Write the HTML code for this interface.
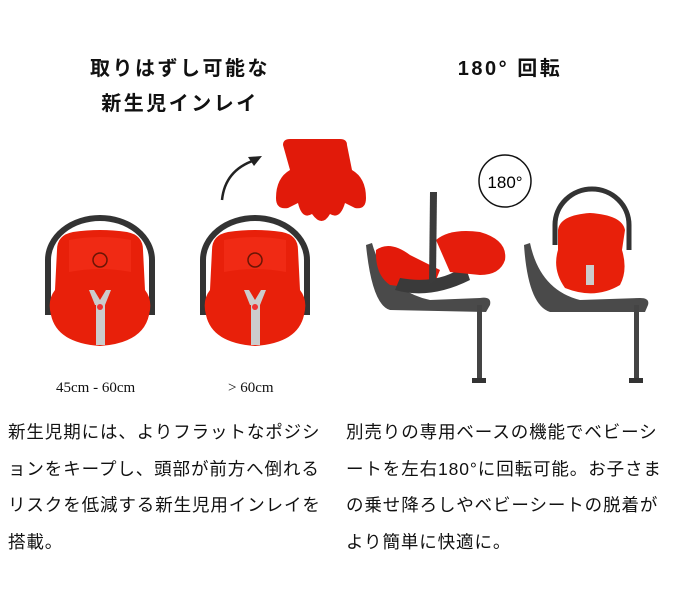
<!DOCTYPE html>
<html><head><meta charset="utf-8"><style>
body{margin:0;width:700px;height:601px;background:#fff;position:relative;overflow:hidden;font-family:"Liberation Sans","Noto Sans CJK JP",sans-serif;color:#111}
.t{position:absolute;font-weight:bold;font-size:20px;text-align:center;letter-spacing:2.5px;white-space:nowrap}
.p{position:absolute;font-size:17.5px;letter-spacing:0.9px;line-height:36.5px;white-space:nowrap}
.c{position:absolute;font-family:"Liberation Serif",serif;font-size:15px}
svg{position:absolute;left:0;top:0}
</style></head><body>
<div class="t" style="left:60px;top:52px;width:240px">取りはずし可能な</div>
<div class="t" style="left:60px;top:87px;width:240px">新生児インレイ</div>
<div class="t" style="left:410px;top:52px;width:200px">180°&nbsp;回転</div>
<svg width="700" height="601" viewBox="0 0 700 601">
<defs><g id="seat">
<path d="M5 105 V50 A52 42 0 0 1 109 50 V105" fill="none" stroke="#333" stroke-width="6"/>
<path d="M14 40 Q14 25 30 22 Q57 18 84 22 Q100 25 100 40 L102 80 Q110 90 106 105 Q100 133 57 136 Q14 133 8 105 Q4 90 12 80Z" fill="#e8200a"/>
<path d="M26 30 Q57 24 88 30 L88 62 Q57 56 26 62Z" fill="#f02a14"/>
<circle cx="57" cy="50" r="7" fill="none" stroke="#6a1505" stroke-width="1.5"/>
<path d="M46 80 L52 95 L62 95 L68 80 L63 80 L57 90 L51 80Z" fill="#ccc"/>
<rect x="53" y="95" width="9" height="40" fill="#ccc"/>
<circle cx="57" cy="97" r="3" fill="#e33"/>
</g></defs>
<use href="#seat" x="43" y="210"/>
<use href="#seat" x="198" y="210"/>
<path d="M222 200 Q225 170 255 160" fill="none" stroke="#222" stroke-width="2.5"/>
<path d="M262 156 L248 157 L254 166Z" fill="#222"/>
<path d="M283 145 Q283 139 290 139 L340 139 Q347 139 347 145 L352 170 Q366 178 366 198 Q366 210 355 208 L345 203 Q340 220 330 214 Q322 228 312 214 Q302 220 298 203 L288 208 Q276 210 276 198 Q276 178 290 170Z" fill="#e11a0a"/>
<circle cx="505" cy="181" r="26" fill="#fff" stroke="#111" stroke-width="1.5"/>
<text x="505" y="188" text-anchor="middle" font-size="17" font-family="Liberation Sans">180°</text>
<path d="M366 245 L372 243 Q385 290 430 300 L480 298 Q492 296 490 305 L486 312 L390 310 Q372 305 366 245Z" fill="#4a4a4a"/>
<rect x="477" y="305" width="5" height="75" fill="#444"/>
<rect x="472" y="378" width="14" height="5" fill="#333"/>
<path d="M376 250 Q390 240 410 255 L440 270 L432 290 L390 285 Q375 275 376 250Z" fill="#e31a0a"/>
<path d="M395 290 Q430 300 470 280 L465 265 Q440 285 400 278Z" fill="#3a3a3a"/>
<path d="M436 240 Q450 228 480 232 Q508 240 505 260 Q500 275 480 275 L450 272 Z" fill="#e51d0c"/>
<path d="M430 192 L437 192 L436 280 L429 285Z" fill="#3b3b3b"/>
<path d="M524 245 L530 243 Q540 290 580 300 L640 298 Q650 298 648 305 L645 312 L550 312 Q528 305 524 245Z" fill="#4a4a4a"/>
<rect x="634" y="305" width="5" height="75" fill="#444"/>
<rect x="629" y="378" width="14" height="5" fill="#333"/>
<path d="M555 245 V225 A37 36 0 0 1 629 225 V250" fill="none" stroke="#333" stroke-width="5"/>
<path d="M558 230 Q560 215 590 213 Q622 215 625 230 L622 250 Q628 270 620 285 Q595 300 565 288 Q552 270 558 250Z" fill="#e8200a"/>
<rect x="586" y="265" width="8" height="20" fill="#ccc"/>
</svg>
<div class="c" style="left:56px;top:380px">45cm - 60cm</div>
<div class="c" style="left:228px;top:380px">&gt; 60cm</div>
<div class="p" style="left:8px;top:414px">新生児期には、よりフラットなポジシ<br>ョンをキープし、頭部が前方へ倒れる<br>リスクを低減する新生児用インレイを<br>搭載。</div>
<div class="p" style="left:346px;top:414px">別売りの専用ベースの機能でベビーシ<br>ートを左右180°に回転可能。お子さま<br>の乗せ降ろしやベビーシートの脱着が<br>より簡単に快適に。</div>
</body></html>
